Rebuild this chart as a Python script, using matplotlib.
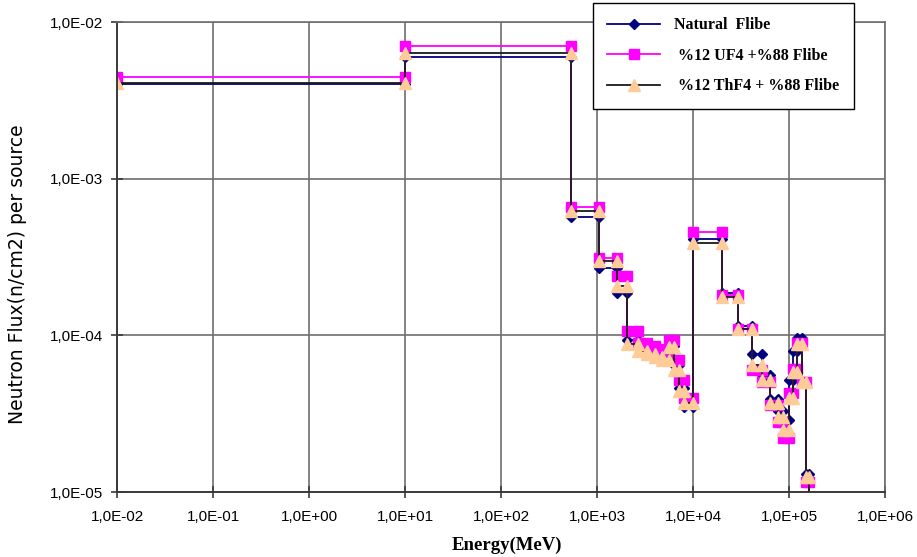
import matplotlib
matplotlib.use("Agg")
import matplotlib.pyplot as plt
import numpy as np
from matplotlib.ticker import FixedLocator, FuncFormatter, NullLocator

# energy group edges (MeV) shared by all three spectra
edges = [1e-2, 1e1, 5.4e2, 1.05e3, 1.6e3, 2.05e3, 2.7e3, 3.3e3, 4.0e3, 4.8e3,
         5.6e3, 6.3e3, 7.2e3, 8.1e3, 1e4, 2e4, 2.95e4, 4.1e4, 5.2e4, 6.3e4,
         7.6e4, 8.6e4, 1e5, 1.1e5, 1.2e5, 1.35e5, 1.5e5, 1.6e5]

# flux per group
natural = [4.0e-3, 6.0e-3, 5.7e-4, 2.7e-4, 1.86e-4, 9.3e-5, 8.6e-5, 8.2e-5, 7.9e-5,
           7.6e-5, 8.6e-5, 6.5e-5, 4.6e-5, 3.5e-5, 4.1e-4, 1.85e-4, 1.15e-4, 7.6e-5,
           5.6e-5, 3.9e-5, 3.3e-5, 2.9e-5, 5.2e-5, 8.0e-5, 9.6e-5, 5.0e-5, 1.3e-5]
uf4 = [4.45e-3, 7.0e-3, 6.6e-4, 3.1e-4, 2.4e-4, 1.06e-4, 9.0e-5, 8.6e-5, 8.2e-5,
       8.0e-5, 9.4e-5, 7.0e-5, 5.2e-5, 4.0e-5, 4.6e-4, 1.8e-4, 1.1e-4, 6.0e-5,
       5.0e-5, 3.6e-5, 2.8e-5, 2.2e-5, 4.3e-5, 6.1e-5, 9.0e-5, 5.0e-5, 1.15e-5]
thf4 = [4.1e-3, 6.3e-3, 6.2e-4, 3.0e-4, 2.05e-4, 8.8e-5, 8.0e-5, 7.6e-5, 7.3e-5,
        7.0e-5, 8.4e-5, 6.0e-5, 4.4e-5, 3.7e-5, 3.9e-4, 1.75e-4, 1.1e-4, 6.5e-5,
        5.2e-5, 3.7e-5, 3.0e-5, 2.5e-5, 4.0e-5, 5.8e-5, 8.8e-5, 5.0e-5, 1.25e-5]
tail = 1e-6  # spectrum falls off the axis after the last group

labels = ["Natural  Flibe", " %12 UF4 +%88 Flibe", " %12 ThF4 + %88 Flibe"]
x_ticks = [1e-2, 1e-1, 1e0, 1e1, 1e2, 1e3, 1e4, 1e5, 1e6]
y_ticks = [1e-5, 1e-4, 1e-3, 1e-2]


def steps(e, f):
    # two points per group so every group edge gets a marker
    xs, ys = [], []
    for i, v in enumerate(f):
        xs += [e[i], e[i + 1]]
        ys += [v, v]
    xs.append(e[-1])
    ys.append(tail)
    return np.array(xs), np.array(ys)


def sci_comma(v, pos):
    return ("%.1E" % v).replace(".", ",")


fig = plt.figure(figsize=(9.17, 5.57), dpi=100)
ax = fig.add_axes([117 / 917, 1 - 492 / 557, 768 / 917, 470 / 557])

styles = [
    dict(color="#000080", marker="D", markersize=5.5, mfc="#000080", mec="#000080"),
    dict(color="#FF00FF", marker="s", markersize=7.5, mfc="#FF00FF", mec="#FF00FF"),
    dict(color="#1a1a1a", marker="^", markersize=8, mfc="#FFCC99", mec="#FFCC99"),
]
handles = []
for f, lab, st in zip([natural, uf4, thf4], labels, styles):
    xs, ys = steps(edges, f)
    h, = ax.plot(xs, ys, lw=1.3, label=lab, **st)
    handles.append(h)

ax.set_xscale("log")
ax.set_yscale("log")
ax.set_xlim(1e-2, 1e6)
ax.set_ylim(1e-5, 1e-2)
ax.xaxis.set_major_locator(FixedLocator(x_ticks))
ax.yaxis.set_major_locator(FixedLocator(y_ticks))
ax.xaxis.set_minor_locator(NullLocator())
ax.yaxis.set_minor_locator(NullLocator())
ax.xaxis.set_major_formatter(FuncFormatter(sci_comma))
ax.yaxis.set_major_formatter(FuncFormatter(sci_comma))
ax.grid(True, color="#6e6e6e", lw=1.2)
ax.set_axisbelow(True)
for s in ["top", "right"]:
    ax.spines[s].set_color("#6e6e6e")
    ax.spines[s].set_linewidth(1.2)
for s in ["left", "bottom"]:
    ax.spines[s].set_color("#3a3a3a")
    ax.spines[s].set_linewidth(1.4)
ax.tick_params(direction="inout", length=8, width=1.2, color="#3a3a3a",
               labelsize=11, pad=6)
ax.tick_params(axis="x", pad=9)
for t in ax.get_xticklabels() + ax.get_yticklabels():
    t.set_family("Liberation Sans")

fig.text(18 / 917, 1 - 274 / 557, "Neutron Flux(n/cm2) per source", rotation=90,
         ha="center", va="center", family="DejaVu Sans", fontsize=13.5)
fig.text(507 / 917, 1 - 545 / 557, "Energy(MeV)", ha="center", va="center",
         family="Liberation Serif", fontweight="bold", fontsize=13.5)

leg = fig.legend(handles=handles, loc="upper left",
                 bbox_to_anchor=(593 / 917, 1 - 3 / 557), borderaxespad=0,
                 numpoints=1, handlelength=3.3, handletextpad=0.9,
                 labelspacing=0.9, borderpad=0.9, fancybox=False, framealpha=1,
                 prop=dict(family="Liberation Serif", weight="bold", size=11.5))
leg.get_frame().set_edgecolor("black")
leg.get_frame().set_linewidth(1.0)

fig.savefig("out.png", dpi=100)
